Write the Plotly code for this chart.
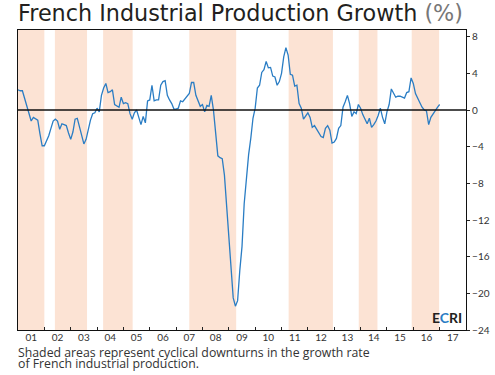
import plotly.graph_objects as go

# Monthly growth (%), Jan 2001 .. Jan 2017
start_year = 2001
growth = [
    2.2, 2.1, 2.1, 1.2, 0.3, -0.5, -1.2, -0.8, -1.0, -1.1, -2.6, -3.9,
    -3.9, -3.4, -2.8, -2.0, -1.2, -1.0, -1.2, -2.1, -1.5, -1.6, -1.7, -2.5,
    -3.2, -2.4, -1.0, -0.9, -1.8, -3.0, -3.7, -3.2, -2.0, -1.1, -0.4, -0.3,
    0.2, -0.2, 1.6, 2.4, 2.9, 1.9, 2.0, 2.2, 0.6, 0.4, 0.3, 1.4,
    0.7, 0.8, 0.7, -0.4, -1.0, -0.3, 0.0, -0.8, -1.6, -0.7, -1.4, 1.0,
    1.1, 2.7, 1.0, 1.1, 1.1, 2.7, 3.1, 3.2, 1.6, 1.1, 0.7, 0.1,
    0.1, 0.2, 1.0, 0.9, 1.2, 1.6, 1.8, 3.0, 3.0, 1.6, 1.0, 0.4,
    0.6, -0.2, 0.5, 0.4, 1.6, 0.0, -2.5, -5.0, -5.2, -5.3, -7.1, -10.5,
    -14.5, -18.2, -20.5, -21.4, -20.8, -17.5, -14.9, -10.2, -7.5, -4.9, -3.1, -0.9,
    0.2, 2.4, 2.7, 4.1, 4.4, 5.3, 4.6, 4.65, 3.7, 3.6, 2.7, 3.1,
    4.0, 5.8, 6.8, 6.0, 3.9, 3.8, 2.6, 2.7, 0.7, 0.2, -1.0, -0.6,
    -0.3, -0.8, -1.9, -1.7, -2.1, -2.5, -2.9, -3.0, -2.0, -1.7, -2.2, -3.6,
    -3.5, -3.1, -2.0, -1.7, 0.3, 0.9, 1.6, 0.7, -0.7, -0.2, -0.4, 0.6,
    0.2, -0.5, -1.0, -1.5, -0.9, -1.9, -1.6, -1.2, -0.6, 0.2, -0.8, -1.5,
    -0.2, 0.6, 2.3, 1.8, 1.4, 1.5, 1.5, 1.4, 1.3, 1.9, 2.0, 3.5,
    2.9, 1.8, 1.2, 0.8, 0.3, 0.0, -0.1, -1.6, -0.8, -0.4, 0.0, 0.3,
    0.6,
]
months = [start_year + i / 12 for i in range(len(growth))]

# Cyclical downturns (decimal years)
down_start = [2001.0, 2002.4, 2004.23, 2007.5, 2011.27, 2013.93, 2015.94]
down_end = [2002.0, 2003.62, 2005.35, 2009.28, 2012.95, 2014.64, 2016.98]

year_ticks = list(range(2002, 2018))
year_labels = ["01", "02", "03", "04", "05", "06", "07", "08", "09",
               "10", "11", "12", "13", "14", "15", "16", "17"]
year_label_pos = [y + 0.5 for y in range(2001, 2018)]

y_ticks = [-24, -20, -16, -12, -8, -4, 0, 4, 8]

x_range = [2001.0, 2018.0]
y_range = [-24, 8.73]

footnote_lines = ["Shaded areas represent cyclical downturns in the growth rate",
                  "of French industrial production."]

fig = go.Figure()

fig.add_trace(go.Scatter(
    x=months, y=growth, mode="lines",
    line=dict(color="#2a7dc4", width=1.3),
    hoverinfo="skip", showlegend=False,
))
# invisible trace for label axis
fig.add_trace(go.Scatter(x=[x_range[0]], y=[0], xaxis="x2", mode="markers",
                         marker=dict(opacity=0), showlegend=False, hoverinfo="skip"))

shapes = []
for s, e in zip(down_start, down_end):
    shapes.append(dict(type="rect", xref="x", yref="paper", x0=s, x1=e, y0=0, y1=1,
                       fillcolor="#fce3d4", line=dict(width=0), layer="below"))
shapes.append(dict(type="line", xref="paper", yref="y", x0=0, x1=1, y0=0, y1=0,
                   line=dict(color="#111111", width=1.5), layer="above"))

annotations = [
    dict(text="French Industrial Production Growth <span style='color:#777'>(%)</span>",
         xref="paper", yref="paper", x=-0.004, y=1 + (30 - 12.8) / 300,
         xanchor="left", yanchor="middle", showarrow=False,
         font=dict(family="DejaVu Sans", size=22.3, color="#231f20")),
    dict(text="<b>E<span style='color:#2a7dc4'>C</span>RI</b>",
         xref="paper", yref="paper", x=0.995, y=0.0, yshift=2,
         xanchor="right", yanchor="bottom", showarrow=False,
         font=dict(family="Lato", size=14, color="#231f20")),
]
for i, line in enumerate(footnote_lines):
    annotations.append(dict(text=line, xref="paper", yref="paper", x=-0.004, y=0,
                            yshift=-22 - 11.5 * i, xanchor="left", yanchor="middle",
                            showarrow=False,
                            font=dict(family="Open Sans", size=12.3, color="#333")))

fig.update_layout(
    width=495, height=375,
    margin=dict(l=18, r=29, t=30, b=45, autoexpand=False),
    paper_bgcolor="white", plot_bgcolor="white",
    shapes=shapes,
    xaxis=dict(range=x_range, tickvals=year_ticks, ticks="inside", ticklen=3,
               tickcolor="#222", showticklabels=False, showgrid=False, zeroline=False,
               showline=True, linecolor="#111", linewidth=1.2, mirror=True,
               automargin=False),
    xaxis2=dict(range=x_range, overlaying="x", side="bottom", tickvals=year_label_pos,
                ticktext=year_labels, ticks="", showgrid=False, zeroline=False,
                showline=False, tickfont=dict(family="Lato", size=10, color="#333"),
                automargin=False),
    yaxis=dict(range=y_range, side="right", tickvals=y_ticks, ticks="outside", ticklen=3,
               tickcolor="#222", showgrid=False, zeroline=False,
               showline=True, linecolor="#111", linewidth=1.2, mirror=True,
               tickfont=dict(family="Lato", size=10, color="#333"),
               automargin=False),
    annotations=annotations,
)

fig.write_html("out.html", config={"displayModeBar": False},
               post_script="document.body.style.margin='0';")
